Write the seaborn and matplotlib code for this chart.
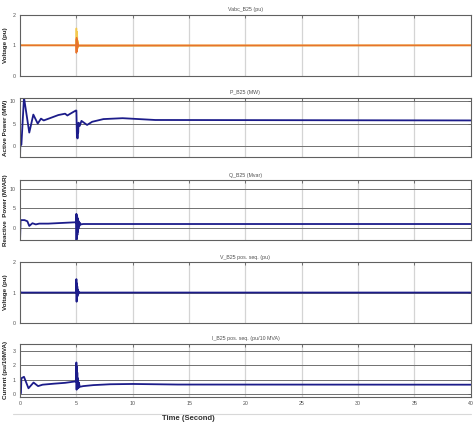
import numpy as np
import pandas as pd
import matplotlib
matplotlib.use("Agg")
import matplotlib.pyplot as plt
from matplotlib.lines import Line2D
import seaborn as sns

# ---- data (time in s) ----
# panel 1: Vabc_B25 (pu), three phases
va_t = [0, 0.01, 0.03, 4.99, 5.0, 5.02, 5.04, 5.06, 5.08, 5.10, 5.14, 5.2, 40]
va_v = [1, 1.08, 1, 1, 0.75, 1.25, 0.80, 1.18, 0.88, 1.10, 0.97, 1, 1]
vb_t = [0, 4.99, 5.0, 5.02, 5.04, 5.06, 5.08, 5.10, 5.13, 5.16, 5.2, 40]
vb_v = [1, 1, 1.56, 0.80, 1.45, 0.85, 1.30, 0.90, 1.15, 0.95, 1, 1]
vc_t = [0, 4.99, 5.0, 5.02, 5.04, 5.06, 5.09, 5.14, 40]
vc_v = [1, 1, 1.2, 0.85, 1.15, 0.9, 1.06, 0.98, 1]

# panel 2: P_B25 (MW)
p_t = [0, 0.02, 0.12, 0.35, 0.82, 1.18, 1.57, 1.86, 2.1, 2.65, 3.4, 4.0, 4.2, 4.6,
       4.95, 5.0, 5.05, 5.08, 5.1, 5.13, 5.16, 5.2, 5.3, 5.45, 5.95, 6.4, 7.4,
       9.1, 12, 40]
p_v = [-2.4, 0.1, 0.3, 10.8, 3.0, 7.0, 5.0, 6.1, 5.7, 6.2, 6.9, 7.2, 6.8, 7.4,
       7.9, 7.9, 2.0, 4.5, 1.7, 5.0, 3.0, 5.2, 4.5, 5.6, 4.7, 5.4, 6.0,
       6.2, 5.8, 5.7]

# panel 3: Q_B25 (Mvar)
q_t = [0, 0.05, 0.4, 0.65, 0.82, 1.1, 1.4, 1.7, 2.5, 4.95, 5.0, 5.01, 5.03, 5.05,
       5.07, 5.09, 5.11, 5.13, 5.16, 5.19, 5.23, 5.27, 5.32, 5.4, 5.6, 40]
q_v = [-3.2, 2.0, 2.0, 1.7, 0.5, 1.2, 0.9, 1.1, 1.1, 1.45, 3.6, -3.2, 3.3, -2.5,
       2.9, -1.8, 2.5, -1.0, 2.0, -0.2, 1.6, 0.5, 1.3, 0.9, 1.0, 1.0]

# panel 4: V_B25 pos. seq. (pu)
v_t = [0, 0.01, 0.03, 4.99, 5.0, 5.02, 5.04, 5.06, 5.08, 5.1, 5.13, 5.17, 5.22, 5.3, 40]
v_v = [0.95, 1.05, 1.0, 1.0, 1.44, 0.7, 1.3, 0.8, 1.2, 0.88, 1.1, 0.95, 1.03, 1.0, 1.0]

# panel 5: I_B25 pos. seq. (pu/10 MVA)
i_t = [0, 0.08, 0.12, 0.35, 0.75, 1.2, 1.6, 2.0, 3.0, 4.0, 4.95, 5.0, 5.02, 5.04,
       5.06, 5.08, 5.1, 5.13, 5.17, 5.22, 5.3, 5.6, 6.5, 8, 10, 14, 40]
i_v = [0.05, 0.05, 1.1, 1.2, 0.4, 0.8, 0.55, 0.65, 0.72, 0.78, 0.88, 2.2, 0.3, 1.9,
       0.4, 1.5, 0.45, 1.1, 0.4, 0.8, 0.5, 0.55, 0.62, 0.68, 0.7, 0.66, 0.65]

titles = ["Vabc_B25 (pu)", "P_B25 (MW)", "Q_B25 (Mvar)",
          "V_B25 pos. seq. (pu)", "I_B25 pos. seq. (pu/10 MVA)"]
ylabels = ["Voltage (pu)", "Active Power (MW)", "Reactive  Power (MVAR)",
           "Voltage (pu)", "Current (pu/10MVA)"]
ylims = [(0, 2), (-2.4, 10.7), (-3.1, 12.3), (0, 2), (-0.2, 3.5)]
yticks = [[0, 1, 2], [0, 5, 10], [0, 5, 10], [0, 1, 2], [0, 1, 2, 3]]
xticks = list(range(0, 41, 5))

# axes boxes in figure fraction [left, bottom, width, height]
boxes = [[0.042, 0.821, 0.945, 0.144],
         [0.042, 0.630, 0.945, 0.139],
         [0.042, 0.434, 0.945, 0.1415],
         [0.042, 0.238, 0.945, 0.144],
         [0.042, 0.064, 0.945, 0.125]]

navy = "#1c1c8a"

sns.set_style("white")
plt.rcParams["font.family"] = ["Liberation Sans", "DejaVu Sans"]

fig = plt.figure(figsize=(4.77, 4.24), dpi=100)
axes = [fig.add_axes(b) for b in boxes]

# panel 1 - three phases
ph = pd.concat([
    pd.DataFrame({"t": vb_t, "v": vb_v, "phase": "b"}),
    pd.DataFrame({"t": vc_t, "v": vc_v, "phase": "c"}),
    pd.DataFrame({"t": va_t, "v": va_v, "phase": "a"}),
])
sns.lineplot(data=ph, x="t", y="v", hue="phase", ax=axes[0], legend=False,
             palette={"b": "#f3c94f", "c": "#e0a040", "a": "#e8732c"},
             linewidth=1.1, estimator=None, sort=False)

series = [(p_t, p_v), (q_t, q_v), (v_t, v_v), (i_t, i_v)]
for ax, (t, v) in zip(axes[1:], series):
    df = pd.DataFrame({"t": t, "v": v})
    sns.lineplot(data=df, x="t", y="v", ax=ax, color=navy, linewidth=1.3,
                 estimator=None, sort=False)

for k, ax in enumerate(axes):
    ax.set_xlim(0, 40)
    ax.set_ylim(*ylims[k])
    ax.set_yticks(yticks[k])
    ax.set_xticks(xticks)
    ax.grid(False)
    for x in xticks[1:-1]:
        ax.axvline(x, color="#d4d4d4", lw=0.9, zorder=0)
    for y in yticks[k]:
        ax.axhline(y, color="#707070", lw=0.7, zorder=0)
    for s in ax.spines.values():
        s.set_color("#606060")
        s.set_linewidth(0.8)
    ax.tick_params(axis="both", direction="in", length=2.5, width=0.6,
                   colors="#606060", labelsize=3.8, labelcolor="#505050",
                   top=True, right=True, pad=3)
    ax.set_title(titles[k], fontsize=3.8, color="#505050", pad=2.5)
    ax.set_xlabel("")
    ax.set_ylabel(ylabels[k], fontsize=4.5, fontweight="bold", color="#222222")
    ax.yaxis.set_label_coords(-0.026, 0.5)
    if k < 4:
        ax.set_xticklabels([])

axes[4].set_xticklabels([str(x) for x in xticks])

fig.add_artist(Line2D([0.027, 0.987], [0.024, 0.024], color="#d8d8d8", lw=0.8))
fig.text(0.395, 0.014, "Time (Second)", fontsize=5.5, fontweight="bold",
         color="#333333", ha="center", va="center")

fig.savefig("out.png", dpi=100)
